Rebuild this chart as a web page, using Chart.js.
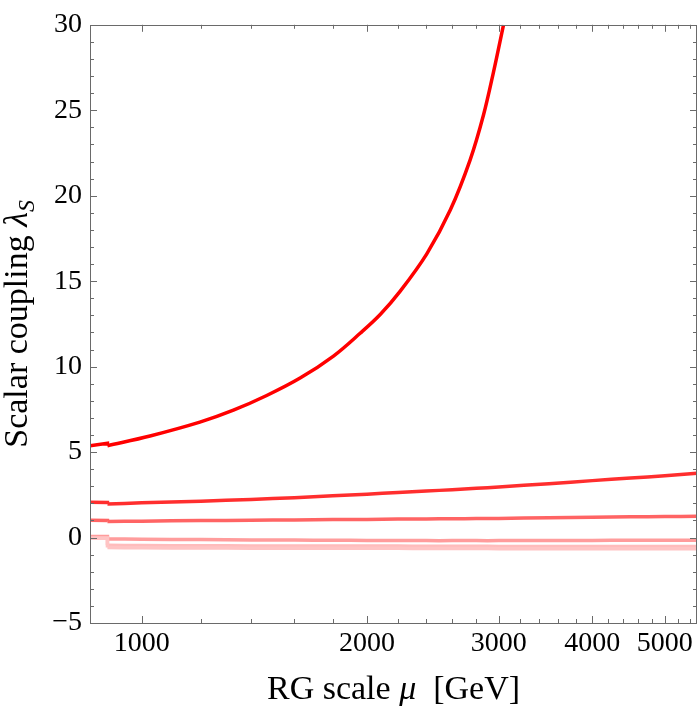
<!DOCTYPE html>
<html>
<head>
<meta charset="utf-8">
<script src="https://cdn.jsdelivr.net/npm/chart.js@4.4.1/dist/chart.umd.min.js"></script>
<style>
  html, body { margin: 0; padding: 0; background: #fff; }
  #wrap { width: 698px; height: 707px; }
</style>
</head>
<body>
<div id="wrap"><canvas id="lambdaCanvas" width="698" height="707"></canvas></div>
<script>
// RG scale grid (GeV): before the threshold step and after it
const muPre = [853, 900];
const muPost = [900, 1000, 1200, 1400, 1600, 1800, 2000, 2200, 2400, 2600, 2800, 3000, 3500, 4000, 4500, 5000, 5520];
// the steep curve is read at its own points
const muTop = [900, 1026, 1196, 1326, 1469, 1628, 1804, 1958, 2083, 2214, 2404, 2584, 2747, 2862, 2951, 3044];

// lambda_S values
const pre1 = [5.37, 5.52];
const post1 = [5.37, 5.94, 6.75, 7.45, 8.31, 9.33, 10.62, 11.95, 13.05, 14.4, 16.6, 19.16, 22.1, 24.72, 27.22, 30];
const pre2 = [2.07, 2.05];
const post2 = [1.96, 2.03, 2.13, 2.23, 2.33, 2.44, 2.54, 2.63, 2.72, 2.80, 2.88, 2.96, 3.15, 3.33, 3.48, 3.62, 3.76];
const pre3 = [1.01, 1.0];
const post3 = [0.94, 0.96, 0.99, 1.01, 1.03, 1.05, 1.06, 1.08, 1.09, 1.10, 1.11, 1.12, 1.16, 1.19, 1.21, 1.23, 1.24];
const pre4 = [0.06, 0.06];
const post4 = [-0.08, -0.10, -0.12, -0.14, -0.15, -0.16, -0.17, -0.17, -0.18, -0.18, -0.18, -0.18, -0.17, -0.17, -0.16, -0.16, -0.16];
const pre5 = [-0.02, -0.02];
const post5 = [-0.45, -0.47, -0.48, -0.49, -0.49, -0.50, -0.50, -0.50, -0.51, -0.51, -0.51, -0.52, -0.52, -0.52, -0.52, -0.52, -0.52];
const pre6 = [-0.04, -0.04];
const post6 = [-0.58, -0.60, -0.61, -0.62, -0.62, -0.63, -0.63, -0.63, -0.64, -0.64, -0.64, -0.65, -0.65, -0.65, -0.66, -0.66, -0.66];

const xMajor = [1000, 2000, 3000, 4000, 5000];
const xMinor = [1200, 1400, 1600, 1800, 2200, 2400, 2600, 2800, 3200, 3400, 3600, 3800, 4200, 4400, 4600, 4800, 5200, 5400];

const serif = "'Liberation Serif', 'DejaVu Serif', serif";
const frameColor = "#6a6a6a";

function points(mu, vals) {
    const out = [];
    mu.forEach((m, i) => { if (vals[i] !== null) out.push({ x: m, y: vals[i] }); });
    return out;
}

const series = [
    { pre: pre6, mu: muPost, post: post6, color: "#ffc4c4" },
    { pre: pre5, mu: muPost, post: post5, color: "#ffbcbc" },
    { pre: pre4, mu: muPost, post: post4, color: "#ff9c9c" },
    { pre: pre3, mu: muPost, post: post3, color: "#ff6464" },
    { pre: pre2, mu: muPost, post: post2, color: "#ff2e2e" },
    { pre: pre1, mu: muTop, post: post1, color: "#ff0000" }
];

const datasets = [];
series.forEach(s => {
    // short piece below threshold, with the vertical step
    datasets.push({
        data: points(muPre, s.pre).concat([{ x: s.mu[0], y: s.post[0] }]),
        borderColor: s.color, borderWidth: 3.5, pointRadius: 0, tension: 0,
        borderJoinStyle: "miter", fill: false
    });
    datasets.push({
        data: points(s.mu, s.post),
        borderColor: s.color, borderWidth: 3.5, pointRadius: 0,
        tension: 0.35, fill: false
    });
});

const framePlugin = {
    id: "frame",
    afterDatasetsDraw(chart) {
        const ctx = chart.ctx;
        const a = chart.chartArea;
        const xs = chart.scales.x, ys = chart.scales.y;
        ctx.save();
        ctx.strokeStyle = frameColor;
        ctx.lineWidth = 1;
        ctx.beginPath();
        // inward ticks on x (bottom and top)
        const xt = (v, len) => {
            const px = Math.round(xs.getPixelForValue(v)) + 0.5;
            ctx.moveTo(px, a.bottom); ctx.lineTo(px, a.bottom - len);
            ctx.moveTo(px, a.top); ctx.lineTo(px, a.top + len);
        };
        xMajor.forEach(v => xt(v, 7));
        xMinor.forEach(v => xt(v, 4));
        // inward ticks on y (left and right)
        for (let v = -5; v <= 30; v++) {
            const len = v % 5 === 0 ? 7 : 4;
            const py = Math.round(ys.getPixelForValue(v)) + 0.5;
            ctx.moveTo(a.left, py); ctx.lineTo(a.left + len, py);
            ctx.moveTo(a.right, py); ctx.lineTo(a.right - len, py);
        }
        ctx.stroke();
        ctx.strokeRect(Math.round(a.left) + 0.5, Math.round(a.top) + 0.5,
            Math.round(a.right - a.left) - 1, Math.round(a.bottom - a.top));
        ctx.restore();
    },
    afterDraw(chart) {
        const ctx = chart.ctx;
        const a = chart.chartArea;
        ctx.save();
        ctx.fillStyle = "#000";
        ctx.textBaseline = "alphabetic";

        // x title: RG scale μ  [GeV]
        const up = "34px " + serif, it = "italic 34px " + serif;
        const parts = [["RG scale ", up], ["\u03bc", it], ["  [GeV]", up]];
        let w = 0;
        parts.forEach(p => { ctx.font = p[1]; w += ctx.measureText(p[0]).width; });
        let x = (a.left + a.right) / 2 - w / 2;
        parts.forEach(p => {
            ctx.font = p[1];
            ctx.fillText(p[0], x, 699);
            x += ctx.measureText(p[0]).width;
        });

        // y title: Scalar coupling λ_S
        ctx.translate(27, (a.top + a.bottom) / 2);
        ctx.rotate(-Math.PI / 2);
        const sub = "italic 24px " + serif;
        const yparts = [["Scalar coupling ", up, 0], ["\u03bb", it, 0], ["S", sub, 7]];
        w = 0;
        yparts.forEach(p => { ctx.font = p[1]; w += ctx.measureText(p[0]).width; });
        x = -w / 2;
        yparts.forEach(p => {
            ctx.font = p[1];
            ctx.fillText(p[0], x, p[2]);
            x += ctx.measureText(p[0]).width;
        });
        ctx.restore();
    }
};

new Chart(document.getElementById("lambdaCanvas"), {
    type: "line",
    data: { datasets: datasets },
    options: {
        responsive: false,
        animation: false,
        layout: { padding: { left: 0, right: 1, top: 15, bottom: 0 } },
        plugins: { legend: { display: false }, tooltip: { enabled: false } },
        scales: {
            x: {
                type: "logarithmic",
                min: 853,
                max: 5520,
                afterBuildTicks(scale) { scale.ticks = xMajor.map(v => ({ value: v })); },
                afterFit(scale) { scale.height = 84; },
                grid: { display: false, drawTicks: false },
                border: { display: false },
                ticks: {
                    padding: 4,
                    maxRotation: 0,
                    autoSkip: false,
                    color: "#000",
                    font: { family: serif, size: 28 },
                    callback: v => String(v)
                }
            },
            y: {
                type: "linear",
                min: -5,
                max: 30,
                afterFit(scale) { scale.width = 90; },
                grid: { display: false, drawTicks: false },
                border: { display: false },
                ticks: {
                    stepSize: 5,
                    padding: 8,
                    color: "#000",
                    font: { family: serif, size: 28 },
                    callback: v => String(v).replace("-", "\u2212")
                }
            }
        }
    },
    plugins: [framePlugin]
});
</script>
</body>
</html>
